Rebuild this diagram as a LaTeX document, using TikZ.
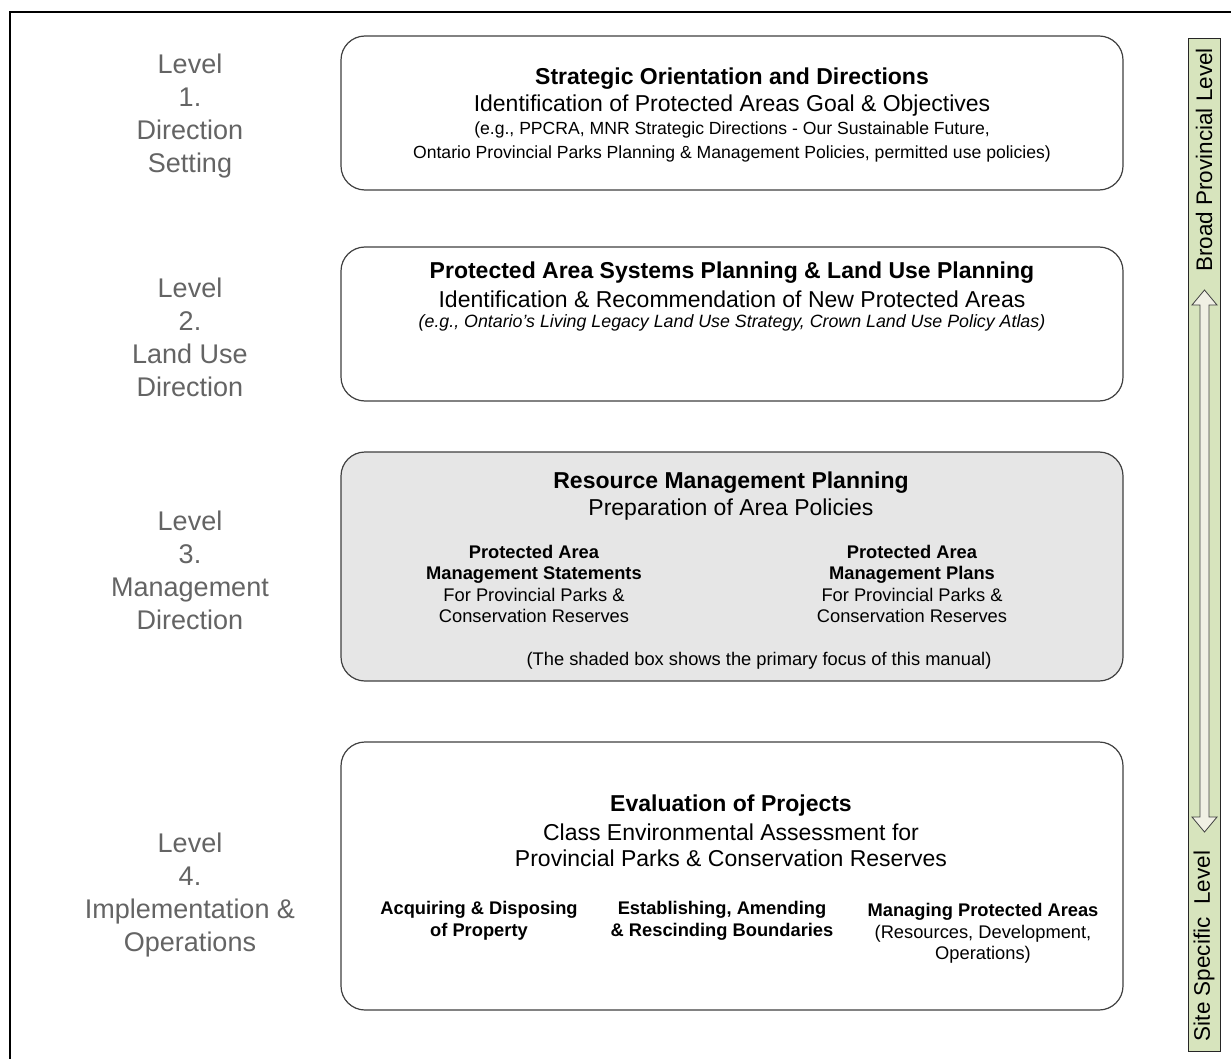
\documentclass[tikz,border=0pt]{standalone}
\usepackage{fontspec}
\setmainfont{Liberation Sans}
\definecolor{lvlgray}{RGB}{100,100,100}
\definecolor{boxgray}{RGB}{64,64,64}
\definecolor{shade}{RGB}{230,230,230}
\definecolor{barbg}{RGB}{215,228,189}
\definecolor{arrfill}{RGB}{240,240,228}
\tikzset{
  lvl/.style={text=lvlgray, align=center, inner sep=0pt, font=\fontsize{27}{33}\selectfont},
  panel/.style={draw=boxgray, line width=1.2pt, rounded corners=24pt, minimum width=782pt, inner sep=0pt},
  ttl/.style={inner sep=0pt, align=center, font=\bfseries\fontsize{23}{26}\selectfont},
  sub/.style={inner sep=0pt, align=center, font=\fontsize{23}{26}\selectfont},
  sml/.style={inner sep=0pt, align=center, font=\fontsize{17.6}{24}\selectfont},
  col/.style={inner sep=0pt, align=center, font=\fontsize{18.3}{21.5}\selectfont},
  bartxt/.style={inner sep=0pt, rotate=90, font=\fontsize{22.5}{26}\selectfont}
}
\begin{document}
\begin{tikzpicture}[x=1pt,y=-1pt]
\useasboundingbox (0,0) rectangle (1231,1059);
\clip (0,0) rectangle (1231,1059);
\fill[white] (0,0) rectangle (1231,1059);
% outer frame (cropped)
\coordinate (fb) at (10,1075);
\coordinate (fc) at (10,12);
\coordinate (fr) at (1245,12);
\draw[line width=2.3pt] (fb) -- (fc) -- (fr);

% level labels
\node[lvl] (l1) at (190,116) {Level\\1.\\Direction\\Setting};
\node[lvl] (l2) at (190,337) {Level\\2.\\Land Use\\Direction};
\node[lvl] (l3) at (190,570) {Level\\3.\\Management\\Direction};
\node[lvl] (l4) at (190,895) {Level\\4.\\Implementation \&\\Operations};

% panels
\node[panel, minimum height=154pt] (b1) at (732,113) {};
\node[panel, minimum height=154pt] (b2) at (732,324) {};
\node[panel, minimum height=229pt, fill=shade] (b3) at (732,566.5) {};
\node[panel, minimum height=268pt] (b4) at (732,876) {};

% panel 1
\node[ttl] (t1) at (732,79) {Strategic Orientation and Directions};
\node[sub] (s1) at (732,106) {Identification of Protected Areas Goal \& Objectives};
\node[sml] (e1) at (732,142) {(e.g., PPCRA, MNR Strategic Directions - Our Sustainable Future,\\Ontario Provincial Parks Planning \& Management Policies, permitted use policies)};

% panel 2
\node[ttl] (t2) at (732,273) {Protected Area Systems Planning \& Land Use Planning};
\node[sub] (s2) at (732,299) {Identification \& Recommendation of New Protected Areas};
\node[sml, font=\itshape\fontsize{17.8}{22}\selectfont] (e2) at (732,323) {(e.g., Ontario’s Living Legacy Land Use Strategy, Crown Land Use Policy Atlas)};

% panel 3
\node[ttl] (t3) at (731,483) {Resource Management Planning};
\node[sub] (s3) at (731,510) {Preparation of Area Policies};
\node[col] (c31) at (534,584) {\textbf{Protected Area}\\\textbf{Management Statements}\\For Provincial Parks \&\\Conservation Reserves};
\node[col] (c32) at (912,584) {\textbf{Protected Area}\\\textbf{Management Plans}\\For Provincial Parks \&\\Conservation Reserves};
\node[col] (n3) at (759,661) {(The shaded box shows the primary focus of this manual)};

% panel 4
\node[ttl] (t4) at (731,806) {Evaluation of Projects};
\node[sub] (s4) at (731,845) {Class Environmental Assessment for\\Provincial Parks \& Conservation Reserves};
\node[col, font=\bfseries\fontsize{18.3}{21.5}\selectfont] (c41) at (479,921) {Acquiring \& Disposing\\of Property};
\node[col, font=\bfseries\fontsize{18.3}{21.5}\selectfont] (c42) at (722,921) {Establishing, Amending\\\& Rescinding Boundaries};
\node[col] (c43) at (983,933.5) {\textbf{Managing Protected Areas}\\(Resources, Development,\\Operations)};

% right bar
\node[draw=black!85, line width=0.9pt, fill=barbg, minimum width=32pt, minimum height=1013pt, inner sep=0pt] (bar) at (1204,544.5) {};
\node[bartxt] (bt) at (1204,160) {Broad Provincial Level};
\node[bartxt] (bb) at (1204,946) {Site Specific\ \ Level};
\draw[draw=boxgray, line width=0.8pt, fill=arrfill]
  (1204.5,290) -- (1217,305) -- (1209,305) -- (1209,817) -- (1217,817)
  -- (1204.5,832) -- (1192,817) -- (1200,817) -- (1200,305) -- (1192,305) -- cycle;
\end{tikzpicture}
\end{document}
